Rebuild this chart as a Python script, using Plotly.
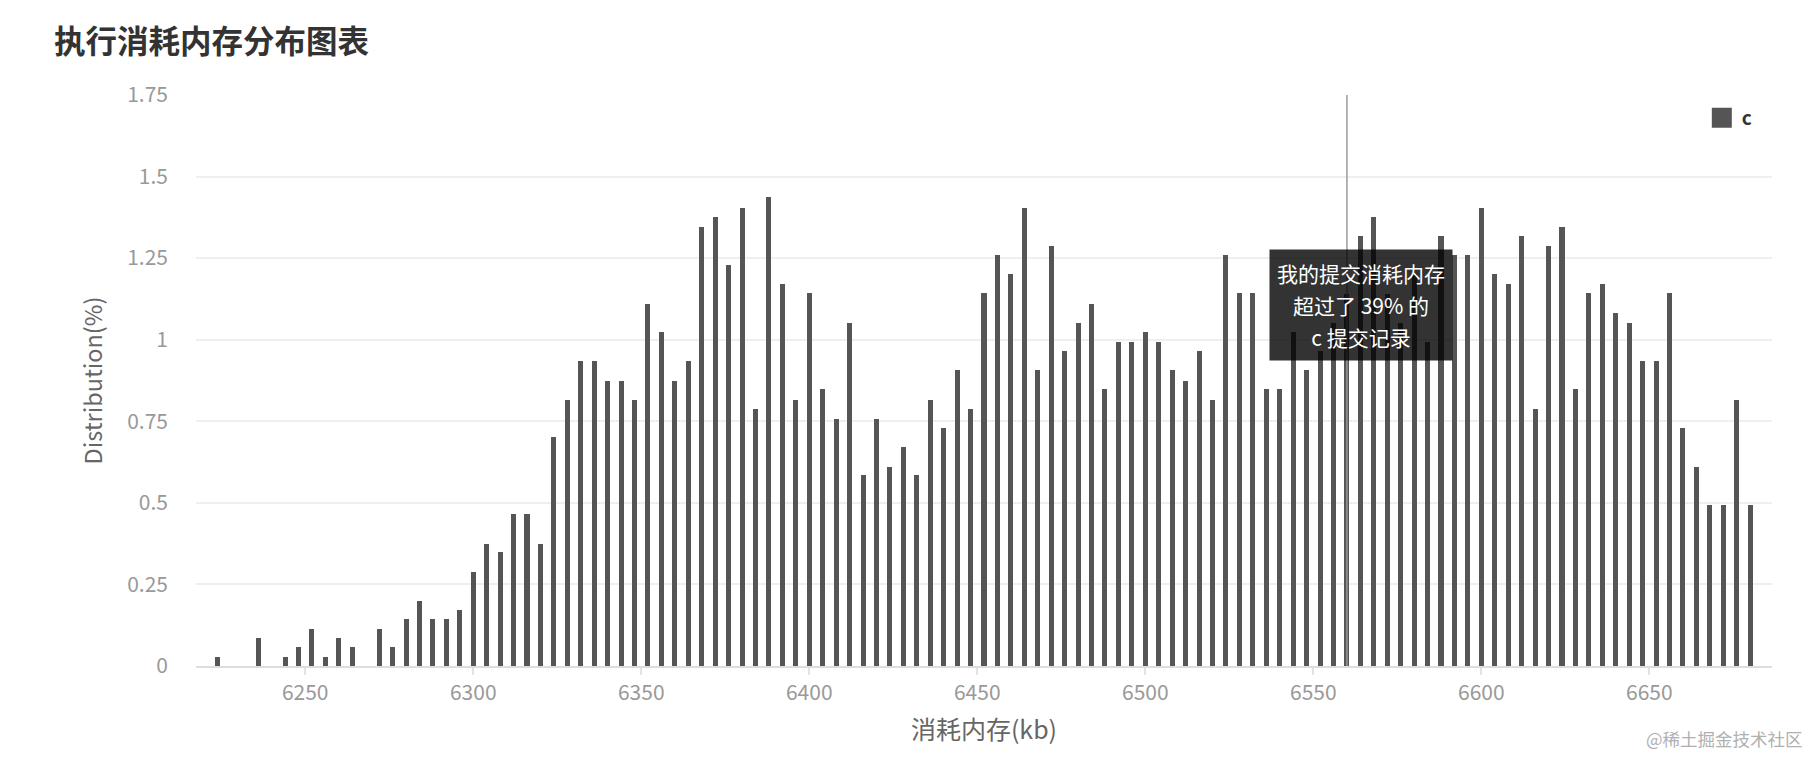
import plotly.graph_objects as go

# 消耗内存分桶 (kb)，每 4kb 一个桶
memory_kb = [
    6224, 6228, 6232, 6236, 6240, 6244, 6248, 6252, 6256, 6260,
    6264, 6268, 6272, 6276, 6280, 6284, 6288, 6292, 6296, 6300,
    6304, 6308, 6312, 6316, 6320, 6324, 6328, 6332, 6336, 6340,
    6344, 6348, 6352, 6356, 6360, 6364, 6368, 6372, 6376, 6380,
    6384, 6388, 6392, 6396, 6400, 6404, 6408, 6412, 6416, 6420,
    6424, 6428, 6432, 6436, 6440, 6444, 6448, 6452, 6456, 6460,
    6464, 6468, 6472, 6476, 6480, 6484, 6488, 6492, 6496, 6500,
    6504, 6508, 6512, 6516, 6520, 6524, 6528, 6532, 6536, 6540,
    6544, 6548, 6552, 6556, 6560, 6564, 6568, 6572, 6576, 6580,
    6584, 6588, 6592, 6596, 6600, 6604, 6608, 6612, 6616, 6620,
    6624, 6628, 6632, 6636, 6640, 6644, 6648, 6652, 6656, 6660,
    6664, 6668, 6672, 6676, 6680,
]

# 每个桶的提交占比 (%)
distribution = [
    0.029, 0, 0, 0.086, 0, 0.029, 0.057, 0.114, 0.029, 0.086,
    0.057, 0, 0.114, 0.057, 0.143, 0.2, 0.143, 0.143, 0.171, 0.289,
    0.375, 0.348, 0.467, 0.467, 0.375, 0.703, 0.815, 0.934, 0.934, 0.875,
    0.875, 0.815, 1.11, 1.025, 0.875, 0.934, 1.346, 1.377, 1.228, 1.405,
    0.789, 1.436, 1.17, 0.815, 1.142, 0.848, 0.756, 1.051, 0.584, 0.756,
    0.611, 0.67, 0.584, 0.815, 0.729, 0.906, 0.789, 1.142, 1.26, 1.2,
    1.405, 0.906, 1.286, 0.965, 1.051, 1.11, 0.848, 0.992, 0.992, 1.025,
    0.992, 0.906, 0.875, 0.965, 0.815, 1.26, 1.142, 1.142, 0.848, 0.848,
    1.025, 0.906, 0.965, 1.05, 1.14, 1.319, 1.377, 1.14, 1.05, 1.2,
    0.992, 1.319, 1.26, 1.26, 1.405, 1.2, 1.17, 1.319, 0.789, 1.286,
    1.346, 0.848, 1.142, 1.17, 1.083, 1.051, 0.934, 0.934, 1.142, 0.729,
    0.611, 0.492, 0.492, 0.815, 0.492,
]

x_ticks = [6250, 6300, 6350, 6400, 6450, 6500, 6550, 6600, 6650]
y_ticks = [0, 0.25, 0.5, 0.75, 1, 1.25, 1.5, 1.75]

# 我的提交
my_memory = 6560
my_percent = 39
language = "c"

FONT = "Noto Sans CJK SC"
BAR_COLOR = "#555555"

# 页面 body 默认有 8px 外边距，图的尺寸和边距按此扣除
W, H = 1809, 745

fig = go.Figure()

fig.add_trace(go.Bar(
    x=memory_kb,
    y=distribution,
    width=1.5,
    marker=dict(color=BAR_COLOR, line=dict(width=0)),
    name=language,
    showlegend=False,
))

# 图例（方块更大一些）
fig.add_trace(go.Scatter(
    x=[None], y=[None],
    mode="markers",
    marker=dict(symbol="square", size=16, color=BAR_COLOR,
                line=dict(width=4, color=BAR_COLOR)),
    name=language,
))

# 我的提交所在位置的指示线
fig.add_shape(type="line", xref="x", yref="paper",
              x0=my_memory, x1=my_memory, y0=0, y1=1,
              line=dict(color="#9a9a9a", width=1.5), layer="above")

# 提示框
tip_lines = ["我的提交消耗内存", f"超过了 {my_percent}% 的", f"{language} 提交记录"]
fig.add_annotation(
    x=my_memory + 4.3, y=1.106, xref="x", yref="y",
    text="<br>".join(f"<span style='font-size:21px'>{s}</span>" for s in tip_lines),
    showarrow=False,
    font=dict(family=FONT, size=24.6, color="white"),
    bgcolor="rgba(0,0,0,0.8)",
    width=182, height=110, borderpad=0,
    xanchor="center", yanchor="middle", align="center",
)

# 水印
fig.add_annotation(
    x=1.021, y=-0.127, xref="paper", yref="paper",
    text="@稀土掘金技术社区", showarrow=False,
    font=dict(family=FONT, size=17.5, color="#b0b0b0"),
    xanchor="right", yanchor="middle",
)

fig.update_layout(
    width=W, height=H,
    margin=dict(l=188, r=45, t=87, b=87),
    paper_bgcolor="white", plot_bgcolor="white",
    font=dict(family=FONT, color="#999999"),
    title=dict(
        text="执行消耗内存分布图表",
        font=dict(family=FONT, size=31.5, color="#333333", weight="bold"),
        xref="container", yref="container",
        x=46 / W, y=1 - 34 / H, xanchor="left", yanchor="middle",
    ),
    legend=dict(
        x=0.991, y=0.96, xanchor="right", yanchor="middle",
        font=dict(family=FONT, size=19, color="#333333", weight="bold"),
        bgcolor="rgba(0,0,0,0)",
    ),
    bargap=0,
)

fig.update_xaxes(
    range=[6217.5, 6686.5],
    tickvals=x_ticks,
    showgrid=False, zeroline=False,
    showline=True, linecolor="#dddddd", linewidth=2,
    ticks="outside", ticklen=7, tickcolor="#e3e3e3", tickwidth=1.5,
    tickfont=dict(family=FONT, size=21, color="#999999"),
    title=dict(text="消耗内存(kb)", font=dict(family=FONT, size=25, color="#666666"),
               standoff=16),
)

fig.update_yaxes(
    range=[0, 1.75],
    tickvals=y_ticks,
    showgrid=True, gridcolor="#efefef", gridwidth=1.5,
    zeroline=False, showline=False,
    ticks="", ticklabelstandoff=27,
    tickfont=dict(family=FONT, size=21, color="#999999"),
    title=dict(text="Distribution(%)", font=dict(family=FONT, size=23.5, color="#666666"),
               standoff=17),
)

fig.write_html("out.html")
